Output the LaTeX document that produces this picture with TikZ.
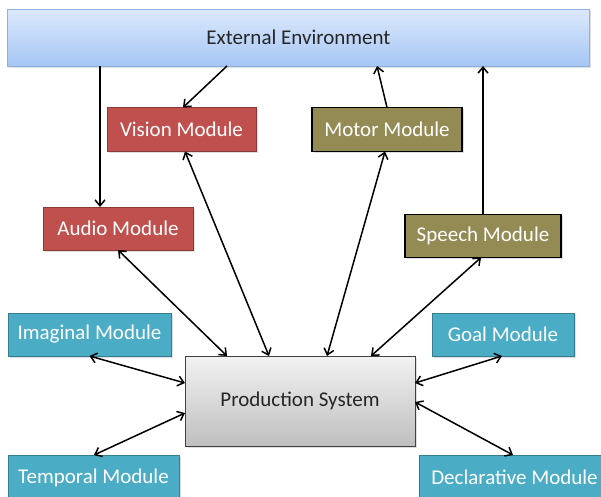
\documentclass[tikz,border=0pt]{standalone}
\usepackage{fontspec}
\setmainfont{Carlito}
\usetikzlibrary{arrows.meta,shadows}
\definecolor{envtop}{HTML}{DDE9FC}
\definecolor{envbot}{HTML}{A5C6F4}
\definecolor{envline}{HTML}{8EB0DD}
\definecolor{redfill}{HTML}{C0504D}
\definecolor{redline}{HTML}{8C3A38}
\definecolor{olivefill}{HTML}{948A54}
\definecolor{cyanfill}{HTML}{4BACC6}
\definecolor{cyanline}{HTML}{357D91}
\definecolor{pstop}{HTML}{F2F2F2}
\definecolor{psbot}{HTML}{BFBFBF}
\definecolor{psline}{HTML}{404040}
\definecolor{darktext}{HTML}{262626}
\begin{document}
\begin{tikzpicture}[x=1pt,y=-1pt,
  box/.style={rectangle, inner sep=0pt, outer sep=0pt, align=center,
    font=\fontsize{21}{25}\selectfont,
    drop shadow={opacity=0.25, shadow xshift=1.5pt, shadow yshift=-1.5pt}},
  envbox/.style={box, top color=envtop, bottom color=envbot, draw=envline, line width=1pt, text=darktext},
  redbox/.style={box, fill=redfill, draw=redline, line width=1pt, text=white},
  olivebox/.style={box, fill=olivefill, draw=black, line width=1.6pt, text=white},
  cyanbox/.style={box, fill=cyanfill, draw=cyanline, line width=1pt, text=white},
  psbox/.style={box, top color=pstop, bottom color=psbot, draw=psline, line width=1pt, text=darktext},
  arr/.style={line width=1.5pt, -{Straight Barb[length=6pt,width=10pt,line width=1.5pt]}},
  darr/.style={line width=1.5pt, {Straight Barb[length=6pt,width=10pt,line width=1.5pt]}-{Straight Barb[length=6pt,width=10pt,line width=1.5pt]}}
]
\useasboundingbox (0,0) rectangle (601,496);
\fill[white] (0,0) rectangle (601,496);

\node[envbox, minimum width=582pt, minimum height=57pt] (ext) at (298.5,37.5) {External Environment};
\node[redbox, minimum width=149pt, minimum height=44pt] (vision) at (181.5,129.5) {Vision Module};
\node[olivebox, minimum width=150pt, minimum height=44pt] (motor) at (387,129.5) {Motor Module};
\node[redbox, minimum width=150pt, minimum height=43pt] (audio) at (118,228.5) {Audio Module};
\node[olivebox, minimum width=156pt, minimum height=43pt] (speech) at (483,236) {Speech Module};
\node[cyanbox, minimum width=163pt, minimum height=43pt] (imag) at (89.5,334.5) {Imaginal Module};
\node[cyanbox, minimum width=142pt, minimum height=43pt] (goal) at (503,334.5) {Goal Module};
\node[psbox, minimum width=230pt, minimum height=90pt] (ps) at (300,401) {Production System};
\node[cyanbox, minimum width=171pt, minimum height=45pt] (temporal) at (93.5,477.5) {Temporal Module};
\node[cyanbox, minimum width=191pt, minimum height=45pt] (decl) at (514.5,477.5) {Declarative Module};

\coordinate (a1) at ([xshift=-18pt]audio.north);
\draw[arr] (ext.south -| a1) -- (a1);
\draw[arr] ([xshift=-71.5pt]ext.south) -- ([xshift=1.5pt]vision.north);
\draw[arr] (motor.north) -- ([xshift=78.5pt]ext.south);
\draw[arr] (speech.north) -- (speech.north |- ext.south);

\draw[darr] ([xshift=3.5pt]vision.south) -- ([xshift=-31pt]ps.north);
\draw[darr] ([xshift=-2pt]motor.south) -- ([xshift=27pt]ps.north);
\draw[darr] (audio.south) -- ([xshift=-73pt]ps.north);
\draw[darr] ([xshift=-2pt]speech.south) -- ([xshift=71pt]ps.north);
\draw[darr] (imag.south) -- ([yshift=18pt]ps.west);
\draw[darr] ([xshift=0.5pt]temporal.north) -- ([yshift=-12pt]ps.west);
\draw[darr] ([xshift=-1pt]goal.south) -- ([yshift=18pt]ps.east);
\draw[darr] ([xshift=-1.5pt]decl.north) -- ([yshift=-1pt]ps.east);
\end{tikzpicture}
\end{document}
